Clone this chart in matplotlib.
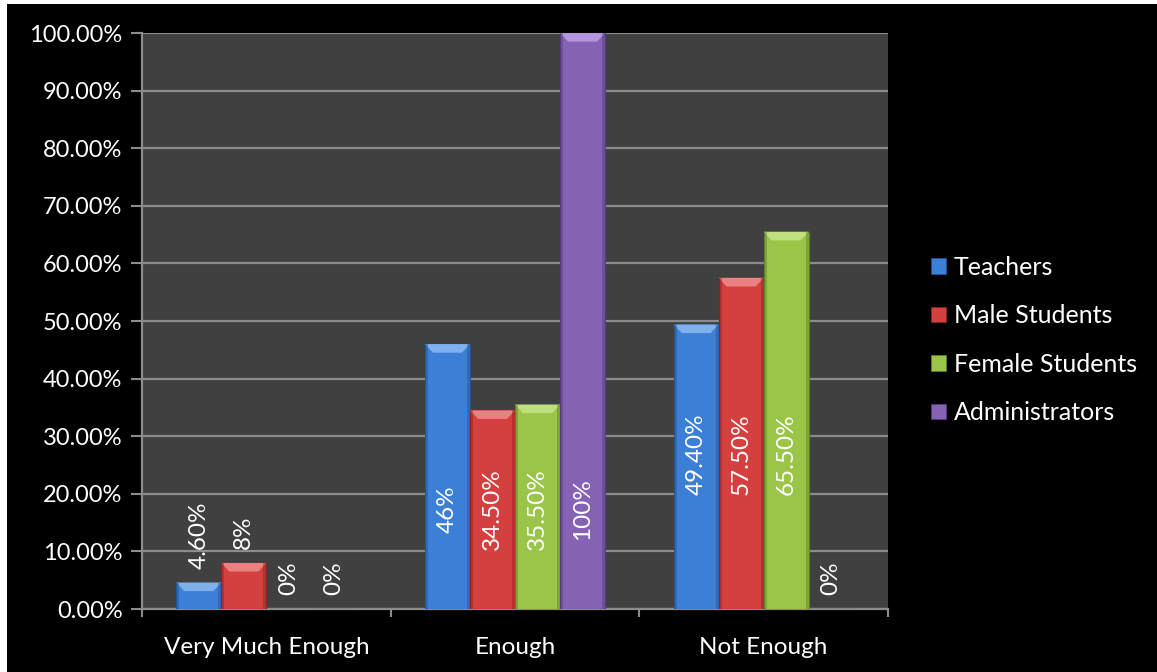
#!/bin/env python
# Grouped bar chart: how enough the time is, by respondent group
import numpy as np
import matplotlib
matplotlib.use('Agg')
import matplotlib.pyplot as plt
from matplotlib.patches import Rectangle, Polygon
from matplotlib.ticker import FuncFormatter, FixedLocator

# data
categories = ['Very Much Enough', 'Enough', 'Not Enough']
groups = ['Teachers', 'Male Students', 'Female Students', 'Administrators']
teachers = [4.6, 46.0, 49.4]
male_students = [8.0, 34.5, 57.5]
female_students = [0.0, 35.5, 65.5]
administrators = [0.0, 100.0, 0.0]
value_labels = [
    ['4.60%', '46%', '49.40%'],
    ['8%', '34.50%', '57.50%'],
    ['0%', '35.50%', '65.50%'],
    ['0%', '100%', '0%'],
]

series = [teachers, male_students, female_students, administrators]
colors = ['#3c7fd6', '#d4403f', '#9ac549', '#8562b4']
tops = ['#7fb0ec', '#ec7f7f', '#c0e07f', '#b295dc']
edges = ['#24538f', '#8a2222', '#5f7f25', '#553b7c']

plt.rcParams['font.family'] = ['Lato', 'DejaVu Sans']

fig = plt.figure(figsize=(11.57, 6.72), dpi=100)
fig.patch.set_facecolor('white')
fig.patches.append(Rectangle((7 / 1157, 0), 1, 668 / 672, transform=fig.transFigure,
                             facecolor='black', edgecolor='none', zorder=-10))

ax = fig.add_axes([142 / 1157, 63 / 672, 746 / 1157, 576 / 672])
ax.set_facecolor('#404040')

x = np.arange(len(categories))
w = 0.181
grp = w * len(series)

# inside labels of taller bars sit at a shared height per category
label_mid = [None, 17.4, 26.8]

for i, vals in enumerate(series):
    xs = x - grp / 2 + w * (i + 0.5)
    bars = ax.bar(xs, vals, width=w, color=colors[i], edgecolor=edges[i],
                  linewidth=0.8, zorder=3, label=groups[i])
    for b, v, lab, c in zip(bars, vals, value_labels[i], range(len(categories))):
        x0 = b.get_x()
        bw = b.get_width()
        h = b.get_height()
        if h > 0:
            dx = 0.032
            dy = min(1.5, h / 2)
            # bevelled top face
            ax.add_patch(Polygon([(x0, h), (x0 + bw, h), (x0 + bw - dx, h - dy), (x0 + dx, h - dy)],
                                 closed=True, facecolor=tops[i], edgecolor='none', zorder=4))
            # darker side strips
            ax.add_patch(Rectangle((x0, 0), 0.012, h, facecolor=edges[i], alpha=0.45,
                                   edgecolor='none', zorder=4))
            ax.add_patch(Rectangle((x0 + bw - 0.012, 0), 0.012, h, facecolor=edges[i], alpha=0.45,
                                   edgecolor='none', zorder=4))
        if v >= 20:
            ax.text(x0 + bw / 2, label_mid[c], lab, rotation=90, ha='center', va='center',
                    color='white', fontsize=17.5, zorder=6)
        else:
            ax.annotate(lab, (x0 + bw / 2, v), xytext=(0, 10), textcoords='offset points',
                        rotation=90, ha='center', va='bottom', color='white', fontsize=17.5,
                        zorder=6)

ax.set_xlim(-0.5, len(categories) - 0.5)
ax.set_ylim(0, 100)
ax.set_yticks(np.arange(0, 101, 10))
ax.yaxis.set_major_formatter(FuncFormatter(lambda v, p: '%.2f%%' % v))
ax.yaxis.grid(True, color='#8c8c8c', linewidth=1.6, zorder=1)
ax.set_axisbelow(True)

ax.set_xticks(x)
ax.set_xticklabels(categories)
ax.xaxis.set_minor_locator(FixedLocator([-0.5, 0.5, 1.5, 2.5]))
ax.tick_params(axis='x', which='major', length=0, pad=20, labelsize=17.5, colors='white')
ax.tick_params(axis='x', which='minor', length=6, width=1.5, color='#8c8c8c', direction='out')
ax.tick_params(axis='y', length=8, width=1.5, color='#8c8c8c', labelsize=17,
               labelcolor='white', pad=6)

for side in ['top', 'right']:
    ax.spines[side].set_visible(False)
for side in ['left', 'bottom']:
    ax.spines[side].set_color('#8c8c8c')
    ax.spines[side].set_linewidth(1.6)

leg = ax.legend(loc='center left', bbox_to_anchor=(1.028, 0.467), frameon=False,
                fontsize=18, labelcolor='white', handlelength=0.6, handleheight=0.6,
                handletextpad=0.3, labelspacing=1.02)
for h in leg.legend_handles:
    h.set_linewidth(0.6)

fig.savefig('out.png', dpi=100, facecolor=fig.get_facecolor())
